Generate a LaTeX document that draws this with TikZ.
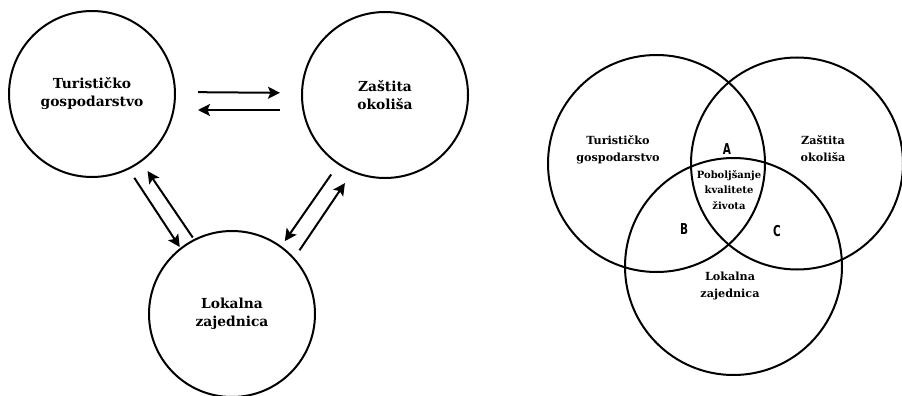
\documentclass[tikz,border=0pt]{standalone}
\usepackage{fontspec}
\setmainfont{DejaVu Serif}
\newfontfamily\labfont{DejaVu Sans}
\usetikzlibrary{arrows.meta}

\tikzset{
    sphere/.style={circle, draw, line width=2pt, minimum size=166pt, inner sep=0pt,
        align=center, font=\bfseries\fontsize{13.8}{18}\selectfont},
    venn/.style={circle, draw, line width=2pt, minimum size=#1, inner sep=0pt},
    venntext/.style={align=center, font=\bfseries\fontsize{11.2}{17}\selectfont},
    inner/.style={align=center, font=\bfseries\fontsize{10}{15.5}\selectfont},
    region/.style={font=\labfont\bfseries\fontsize{15}{15}\selectfont, xscale=.7, transform shape},
    arr/.style={-{Stealth[length=12pt,width=12pt,inset=2.5pt]}, line width=2pt}
}

\begin{document}
\begin{tikzpicture}[x=1pt, y=-1pt]
    \useasboundingbox (0,0) rectangle (902,396);

    % three spheres with arrows
    \node[sphere] (tur) at (92,94)  {Turističko\\gospodarstvo};
    \node[sphere] (zas) at (385,95) {Zaštita\\okoliša};
    \node[sphere] (lok) at (232,314) {Lokalna\\zajednica};

    \draw[arr, shorten <=22pt, shorten >=21pt] ([yshift=2pt]tur.east) -- ([yshift=2pt]zas.west);
    \draw[arr, shorten <=21pt, shorten >=22pt] ([yshift=-15pt]zas.west) -- ([yshift=-16pt]tur.east);

    \draw[arr, shorten <=10pt, shorten >=1pt]  (tur.-64)  -- (lok.128);
    \draw[arr, shorten <=2pt,  shorten >=11pt] (lok.117)  -- (tur.-54);
    \draw[arr, shorten <=12pt, shorten >=6pt]  (zas.-124) -- (lok.54);
    \draw[arr, shorten <=9pt,  shorten >=13pt] (lok.42)   -- (zas.-113);

    % venn diagram
    \node[venn=217pt] (vtur) at (656.5,163.5) {};
    \node[venn=212pt] (vzas) at (797,163.5)   {};
    \node[venn=217pt] (vlok) at (733.5,266.5) {};

    \node[venntext] (ttur) at (618,150) {Turističko\\gospodarstvo};
    \node[venntext] (tzas) at (823,149) {Zaštita\\okoliša};
    \node[venntext] (tlok) at (730,286) {Lokalna\\zajednica};
    \node[inner]    (tmid) at (729,190) {Poboljšanje\\kvalitete\\života};

    \node[region] (ra) at (727,149) {A};
    \node[region] (rb) at (684,229) {B};
    \node[region] (rc) at (777,231) {C};
\end{tikzpicture}
\end{document}
